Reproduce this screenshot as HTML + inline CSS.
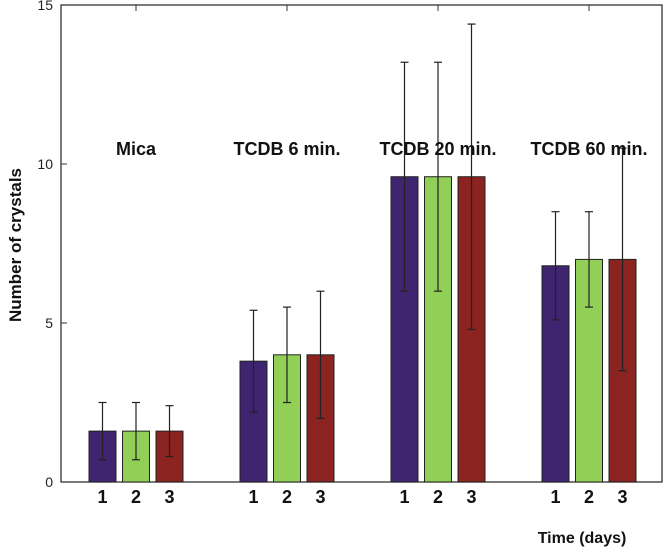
<!DOCTYPE html>
<html><head><meta charset="utf-8"><style>
html,body{margin:0;padding:0;background:#fff;}
svg{display:block;font-family:"Liberation Sans",Arial,sans-serif;}
</style></head><body>
<svg id="chart" width="666" height="553" viewBox="0 0 666 553"></svg>
<script>
const groups = ["Mica","TCDB 6 min.","TCDB 20 min.","TCDB 60 min."];
const days = ["1","2","3"];
const values = [[1.6,1.6,1.6],[3.8,4.0,4.0],[9.6,9.6,9.6],[6.8,7.0,7.0]];
const errLow = [[0.7,0.7,0.8],[2.2,2.5,2.0],[6.0,6.0,4.8],[5.1,5.5,3.5]];
const errHigh = [[2.5,2.5,2.4],[5.4,5.5,6.0],[13.2,13.2,14.4],[8.5,8.5,10.5]];
const yTicks = [0,5,10,15];
const colors = ["#3f2470","#92cf57","#8b2320"];

const svg = document.getElementById('chart');
const NS = "http://www.w3.org/2000/svg";
const L=61,R=662,T=5,B=482;
function y(v){return B-(v/15)*(B-T);}
function gx(i){return 136+i*151;}
function bx(i,j){return gx(i)+(j-1)*33.5;}
function mk(tag,attrs,parent){const e=document.createElementNS(NS,tag);for(const k in attrs)e.setAttribute(k,attrs[k]);(parent||svg).appendChild(e);return e;}

const frame = mk('rect',{x:L,y:T,width:R-L,height:B-T,fill:'none',stroke:'#333','stroke-width':1.3});



yTicks.forEach(t=>{
  const tk=mk('line',{x1:L,x2:L+6,y1:y(t),y2:y(t),stroke:'#333'});
  
  
  const lb=mk('text',{x:L-8,y:y(t)+5,'text-anchor':'end','font-size':14,fill:'#222'});
  lb.textContent=t;
  
  
});

groups.forEach((g,i)=>{
  const tt=mk('line',{x1:gx(i),x2:gx(i),y1:T,y2:T+6,stroke:'#333'});
  
  
  days.forEach((d,j)=>{
    const x=bx(i,j);
    const bar=mk('rect',{x:x-13.5,y:y(values[i][j]),width:27,height:B-y(values[i][j]),fill:colors[j],stroke:'#222','stroke-width':1});
    
    
    const el=mk('line',{x1:x,x2:x,y1:y(errHigh[i][j]),y2:y(errLow[i][j]),stroke:'#222','stroke-width':1.2});
    
    
    [errHigh[i][j],errLow[i][j]].forEach(v=>{
      const cap=mk('line',{x1:x-4,x2:x+4,y1:y(v),y2:y(v),stroke:'#222','stroke-width':1.2});
      
      
    });
    const dl=mk('text',{x:x,y:503,'text-anchor':'middle','font-size':18,'font-weight':'bold',fill:'#111'});
    dl.textContent=d;
    
    
  });
  const gl=mk('text',{x:gx(i),y:155,'text-anchor':'middle','font-size':18,'font-weight':'bold',fill:'#111'});
  gl.textContent=g;
  
  
});

const xt=mk('text',{x:582,y:543,'text-anchor':'middle','font-size':16,'font-weight':'bold',fill:'#111'});
xt.textContent='Time (days)';


const yt=mk('text',{x:0,y:0,'text-anchor':'middle','font-size':17,'font-weight':'bold',fill:'#111',transform:'translate(21,245) rotate(-90)'});
yt.textContent='Number of crystals';


</script>
</body></html>
